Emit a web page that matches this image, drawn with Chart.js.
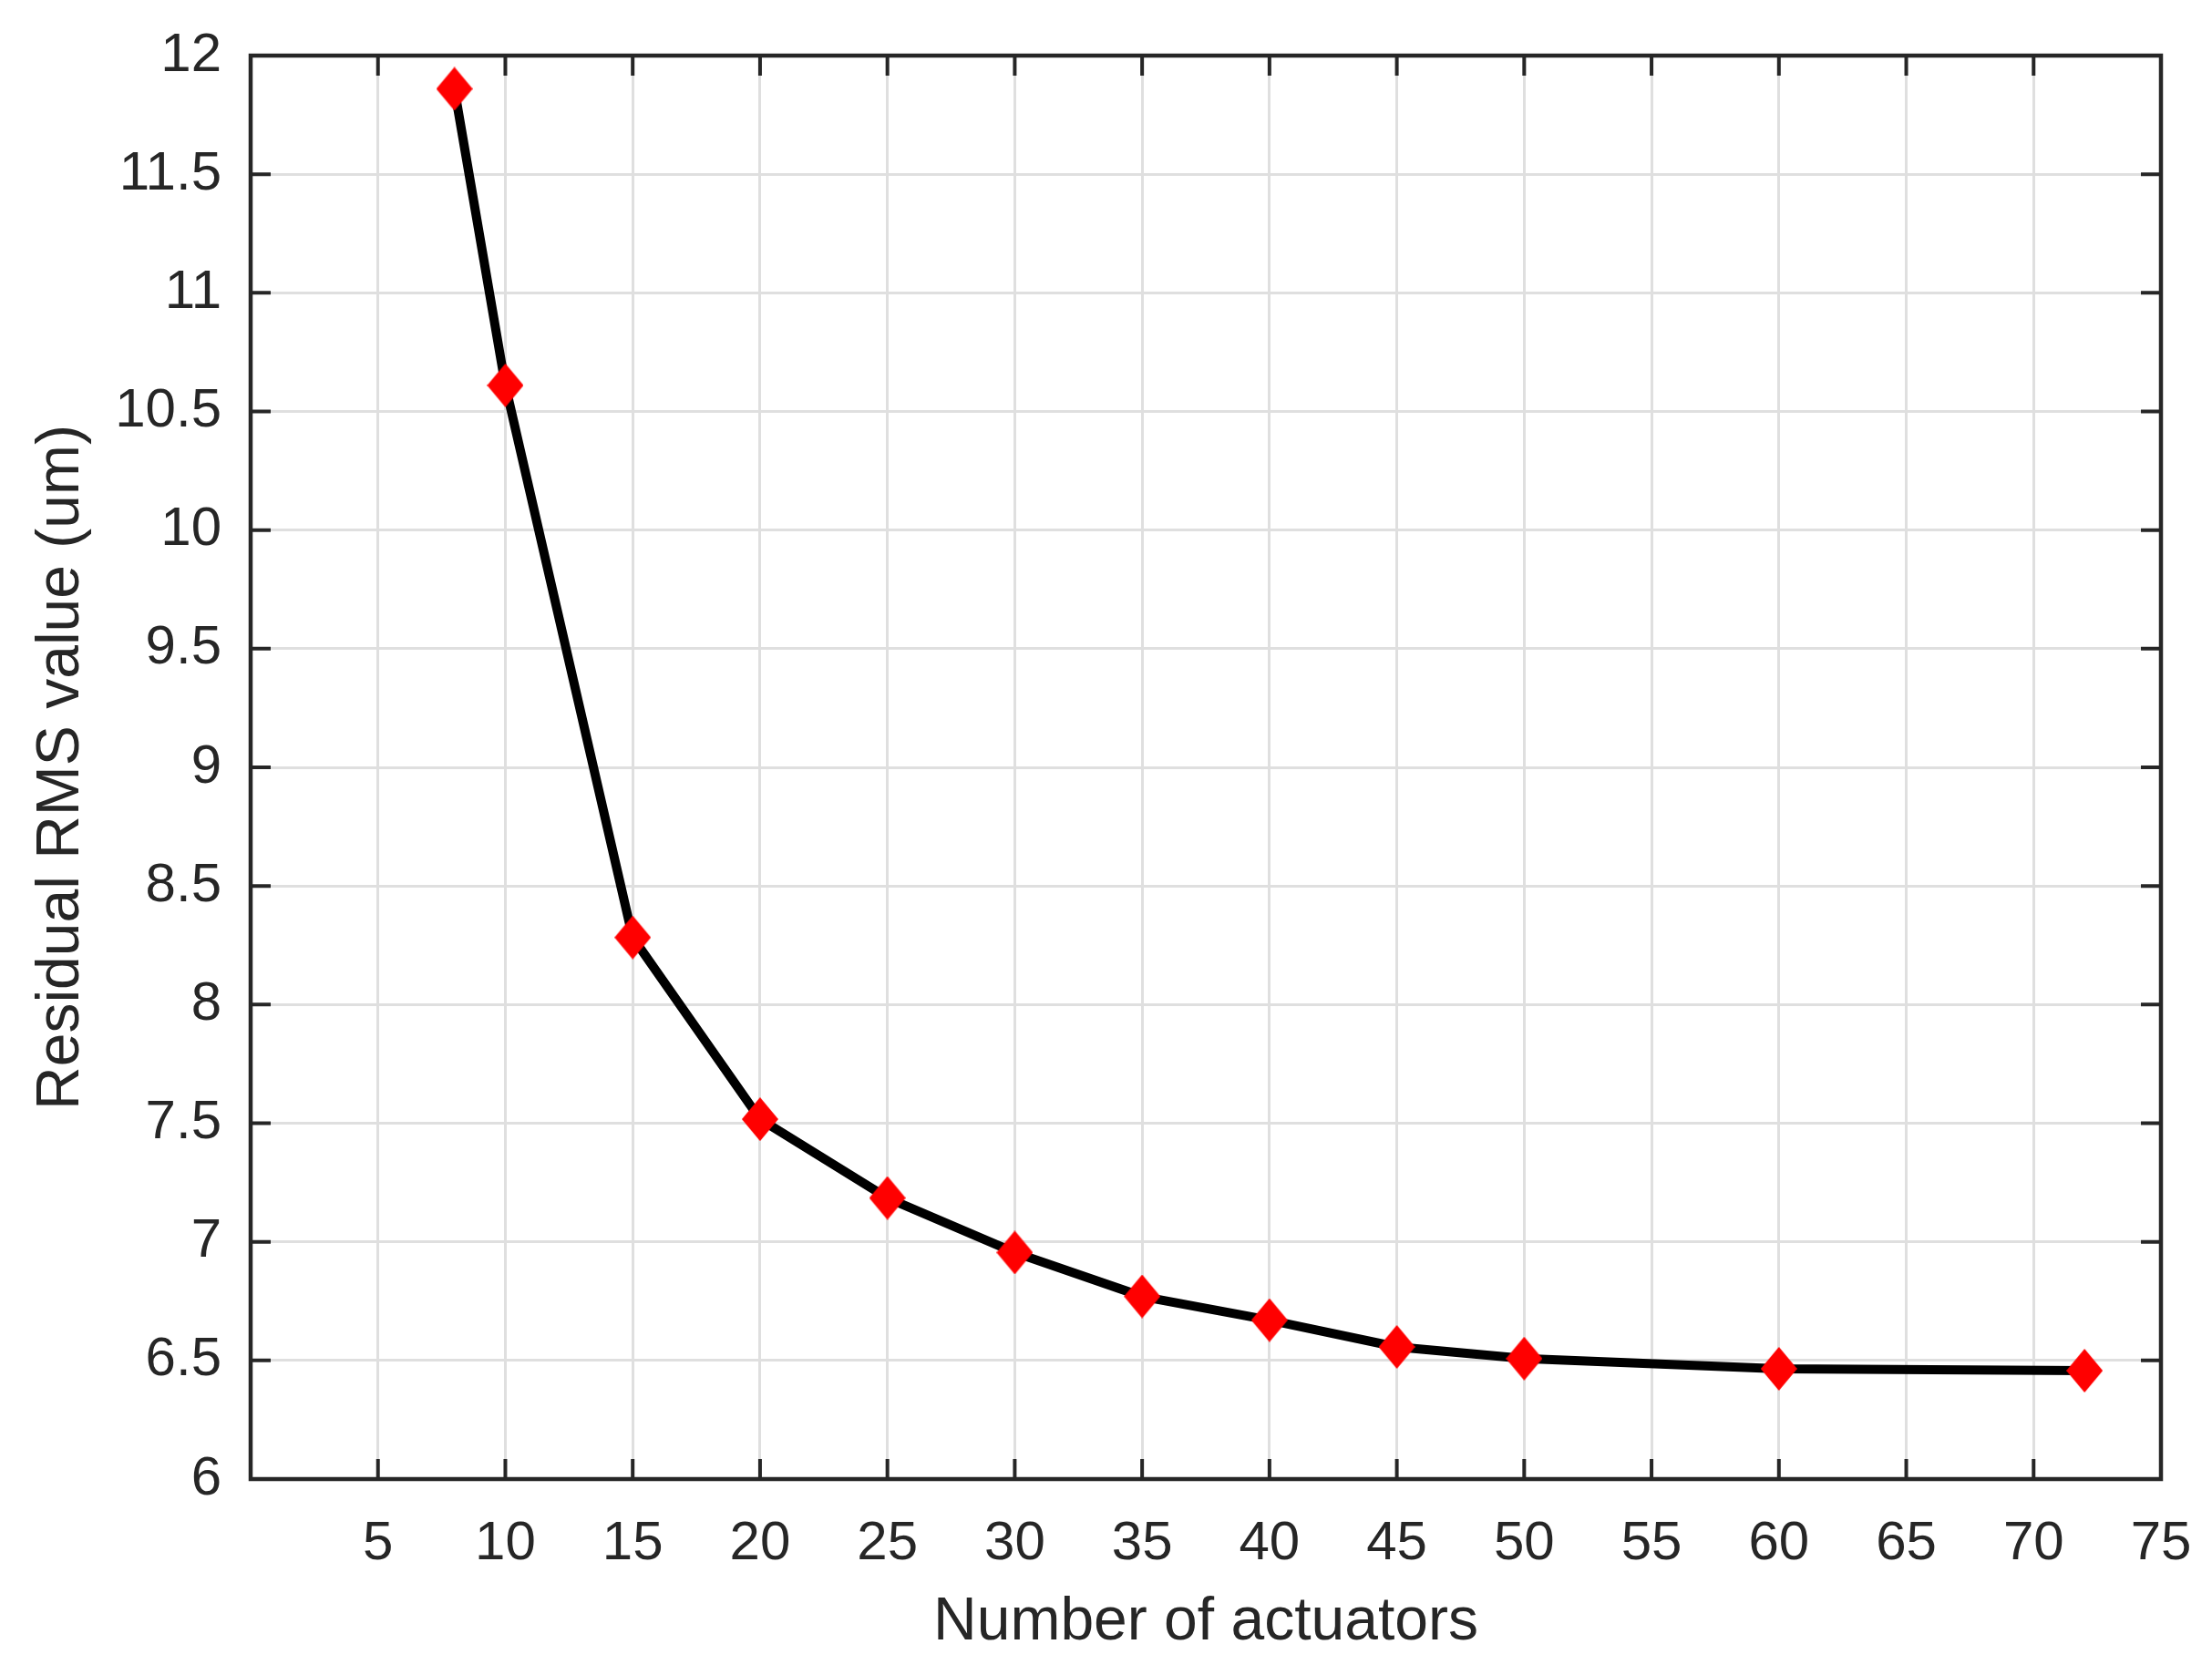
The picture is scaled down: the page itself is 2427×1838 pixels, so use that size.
<!DOCTYPE html>
<html>
<head>
<meta charset="utf-8">
<script src="https://cdn.jsdelivr.net/npm/chart.js@4/dist/chart.umd.min.js"></script>
<style>
  html, body { margin: 0; padding: 0; background: #ffffff; }
  #wrap { width: 2427px; height: 1838px; }
</style>
</head>
<body>
<div id="wrap"><canvas id="c" width="2427" height="1838"></canvas></div>
<script>
// ---- data ----
const actuators = [8, 10, 15, 20, 25, 30, 35, 40, 45, 50, 60, 72];
const rmsValues = [11.86, 10.61, 8.283, 7.517, 7.185, 6.955, 6.77, 6.67, 6.557, 6.508, 6.465, 6.457];
const xTickLabels = ['', '5', '10', '15', '20', '25', '30', '35', '40', '45', '50', '55', '60', '65', '70', '75'];
const yTickLabels = ['6', '6.5', '7', '7.5', '8', '8.5', '9', '9.5', '10', '10.5', '11', '11.5', '12'];
const xTitle = 'Number of actuators';
const yTitle = 'Residual RMS value (um)';

// ---- styles ----
const axisColor = '#262626';
const gridColor = '#dfdfdf';
const fontFamily = "'Liberation Sans', Arial, Helvetica, sans-serif";

// diamond marker image
function makeDiamond(w, h, color) {
  const cv = document.createElement('canvas');
  cv.width = w; cv.height = h;
  const g = cv.getContext('2d');
  g.fillStyle = color;
  g.beginPath();
  g.moveTo(w / 2, 0);
  g.lineTo(w, h / 2);
  g.lineTo(w / 2, h);
  g.lineTo(0, h / 2);
  g.closePath();
  g.fill();
  return cv;
}
const diamond = makeDiamond(40, 48, '#ff0000');

const points = actuators.map((x, i) => ({ x: x, y: rmsValues[i] }));

// box + inward ticks on all four sides
const boxPlugin = {
  id: 'boxPlugin',
  afterDraw(chart) {
    const { ctx, chartArea: a, scales } = chart;
    const xs = scales.x, ys = scales.y;
    const tl = 22;
    ctx.save();
    ctx.strokeStyle = axisColor;
    ctx.lineWidth = 4;
    ctx.beginPath();
    xs.ticks.forEach(t => {
      const px = xs.getPixelForValue(t.value);
      ctx.moveTo(px, a.bottom); ctx.lineTo(px, a.bottom - tl);
      ctx.moveTo(px, a.top); ctx.lineTo(px, a.top + tl);
    });
    ys.ticks.forEach(t => {
      const py = ys.getPixelForValue(t.value);
      ctx.moveTo(a.left, py); ctx.lineTo(a.left + tl, py);
      ctx.moveTo(a.right, py); ctx.lineTo(a.right - tl, py);
    });
    ctx.stroke();
    ctx.lineWidth = 4.5;
    ctx.strokeRect(a.left, a.top, a.right - a.left, a.bottom - a.top);
    ctx.restore();
  }
};

new Chart(document.getElementById('c'), {
  type: 'line',
  data: {
    datasets: [{
      data: points,
      borderColor: '#000000',
      borderWidth: 10,
      tension: 0,
      fill: false,
      pointStyle: diamond,
      pointRadius: 20,
      pointHoverRadius: 20,
      pointBackgroundColor: '#ff0000',
      pointBorderWidth: 0
    }]
  },
  options: {
    responsive: false,
    animation: false,
    devicePixelRatio: 1,
    layout: { padding: { top: 61, right: 56, left: 0, bottom: 0 } },
    plugins: {
      legend: { display: false },
      tooltip: { enabled: false }
    },
    scales: {
      x: {
        type: 'linear',
        min: 0, max: 75,
        afterFit(s) { s.height = 215; s.paddingLeft = 0; s.paddingRight = 0; },
        afterBuildTicks(s) {
          s.ticks = xTickLabels.map((lab, i) => ({ value: i * 5 }));
        },
        ticks: {
          autoSkip: false,
          maxRotation: 0,
          padding: 35,
          color: axisColor,
          font: { family: fontFamily, size: 60 },
          callback: (v, i) => xTickLabels[i]
        },
        grid: { color: gridColor, lineWidth: 3, drawTicks: false },
        border: { display: false },
        title: {
          display: true,
          text: xTitle,
          color: axisColor,
          font: { family: fontFamily, size: 66 },
          padding: { top: 0, bottom: 18 }
        }
      },
      y: {
        type: 'linear',
        min: 6, max: 12,
        afterFit(s) { s.width = 275; s.paddingTop = 0; s.paddingBottom = 0; },
        afterBuildTicks(s) {
          s.ticks = yTickLabels.map(lab => ({ value: parseFloat(lab) }));
        },
        ticks: {
          autoSkip: false,
          padding: 32,
          color: axisColor,
          font: { family: fontFamily, size: 60 },
          callback: (v, i) => yTickLabels[i]
        },
        grid: { color: gridColor, lineWidth: 3, drawTicks: false },
        border: { display: false },
        title: {
          display: true,
          text: yTitle,
          color: axisColor,
          font: { family: fontFamily, size: 66 },
          padding: { top: 28, bottom: 0 }
        }
      }
    }
  },
  plugins: [boxPlugin]
});
</script>
</body>
</html>
